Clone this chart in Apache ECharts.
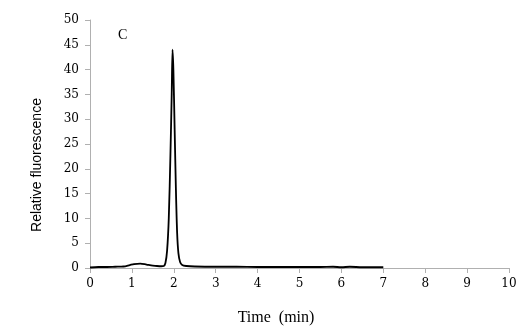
<!DOCTYPE html>
<html><head><meta charset="utf-8">
<script src="https://cdn.jsdelivr.net/npm/echarts@6/dist/echarts.min.js"></script>
<style>html,body{margin:0;padding:0;background:#fff}#c{width:526px;height:336px}</style>
</head><body><div id="c"></div>
<script>
const times = [0.0,0.2,0.4,0.6,0.8,0.95,1.05,1.2,1.35,1.5,1.6,1.7,1.76,1.8,1.84,1.88,1.92,1.95,1.97,1.99,2.02,2.05,2.08,2.11,2.15,2.2,2.3,2.5,3.0,3.5,4.0,4.5,5.0,5.5,5.8,6.0,6.2,6.5,7.0];
const fluorescence = [0.1,0.2,0.2,0.25,0.3,0.6,0.8,0.9,0.7,0.5,0.4,0.35,0.4,1.0,3.5,10,23,35,44,40,28,16,7,3,1.2,0.6,0.4,0.3,0.25,0.25,0.2,0.2,0.2,0.2,0.25,0.15,0.25,0.15,0.15];
const xTicks = [0,1,2,3,4,5,6,7,8,9,10];
const yTicks = [0,5,10,15,20,25,30,35,40,45,50];
const panelLabel = 'C';
const xTitle = 'Time  (min)';
const yTitle = 'Relative fluorescence';

const chart = echarts.init(document.getElementById('c'));
chart.setOption({
  animation:false,
  grid:{left:90,right:17,top:20,bottom:68},
  xAxis:{type:'value',min:0,max:10,interval:1,
    axisLine:{lineStyle:{color:'#b0b0b0'}},
    axisTick:{show:true,length:5,inside:false,lineStyle:{color:'#b0b0b0'}},
    axisLabel:{fontFamily:'DejaVu Serif',fontSize:12,color:'#000',margin:10},
    splitLine:{show:false}},
  yAxis:{type:'value',min:0,max:50,interval:5,
    axisLine:{show:true,lineStyle:{color:'#b0b0b0'}},
    axisTick:{show:true,length:5,lineStyle:{color:'#b0b0b0'}},
    axisLabel:{fontFamily:'DejaVu Serif',fontSize:12,color:'#000',margin:11},
    splitLine:{show:false}},
  graphic:[
    {type:'text',left:118,top:28,style:{text:panelLabel,font:'14px "Liberation Serif"',fill:'#000'}},
    {type:'text',x:276,y:318,style:{text:xTitle,font:'16px "Liberation Serif"',fill:'#000',align:'center',verticalAlign:'middle'}},
    {type:'text',x:37,y:165,rotation:Math.PI/2,style:{text:yTitle,font:'14px "Liberation Sans"',fill:'#000',align:'center',verticalAlign:'middle'}}
  ],
  series:[{type:'line',data:times.map((t,i)=>[t,fluorescence[i]]),
    showSymbol:false,smooth:0.3,lineStyle:{color:'#000',width:1.8}}]
});
</script></body></html>
